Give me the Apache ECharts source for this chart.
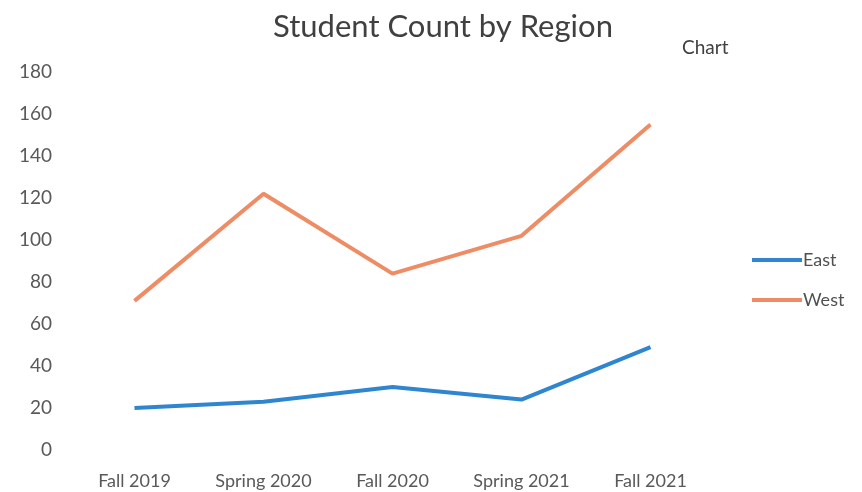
<!DOCTYPE html>
<html><head><meta charset="utf-8">
<script src="https://cdn.jsdelivr.net/npm/echarts@6/dist/echarts.min.js"></script>
<style>html,body{margin:0;padding:0;background:#fff}#c{width:862px;height:492px}</style>
</head><body><div id="c"></div>
<script>
const categories = ["Fall 2019", "Spring 2020", "Fall 2020", "Spring 2021", "Fall 2021"];
const eastValues = [20, 23, 30, 24, 49];
const westValues = [71, 122, 84, 102, 155];
const seriesNames = ["East", "West"];
const yTicks = {min: 0, max: 180, interval: 20};

const FONT = "Lato";
const chart = echarts.init(document.getElementById('c'));
chart.setOption({
  backgroundColor: '#fff',
  animation: false,
  title: [
    {text: "Student Count by Region", left: 438, top: 6, textAlign: 'center',
     textStyle: {fontFamily: FONT, fontSize: 31, fontWeight: 'normal', color: '#404040'}},
    {text: "Chart", left: 677, top: 33,
     textStyle: {fontFamily: FONT, fontSize: 19, fontWeight: 'normal', color: '#404040'}}
  ],
  legend: {
    orient: 'vertical', left: 747, top: 246, itemWidth: 50, itemHeight: 4, itemGap: 22,
    icon: 'rect',
    textStyle: {fontFamily: FONT, fontSize: 18, color: '#505050', padding: [0,0,0,-4]},
    data: seriesNames
  },
  grid: {left: 70, right: 147, top: 72, bottom: 42},
  xAxis: {
    type: 'category', data: categories, boundaryGap: true,
    axisLine: {show: false}, axisTick: {show: false},
    axisLabel: {fontFamily: FONT, fontSize: 18, color: '#595959', margin: 22, interval: 0, hideOverlap: false}
  },
  yAxis: {
    type: 'value', min: yTicks.min, max: yTicks.max, interval: yTicks.interval,
    splitLine: {show: false}, axisLine: {show: false}, axisTick: {show: false},
    axisLabel: {fontFamily: FONT, fontSize: 19, color: '#595959', margin: 18}
  },
  series: [
    {name: seriesNames[0], type: 'line', data: eastValues, symbol: 'none',
     lineStyle: {width: 4, color: '#2f86cf'}, itemStyle: {color: '#2f86cf'}},
    {name: seriesNames[1], type: 'line', data: westValues, symbol: 'none',
     lineStyle: {width: 4, color: '#ee8c66'}, itemStyle: {color: '#ee8c66'}}
  ]
});
</script></body></html>
